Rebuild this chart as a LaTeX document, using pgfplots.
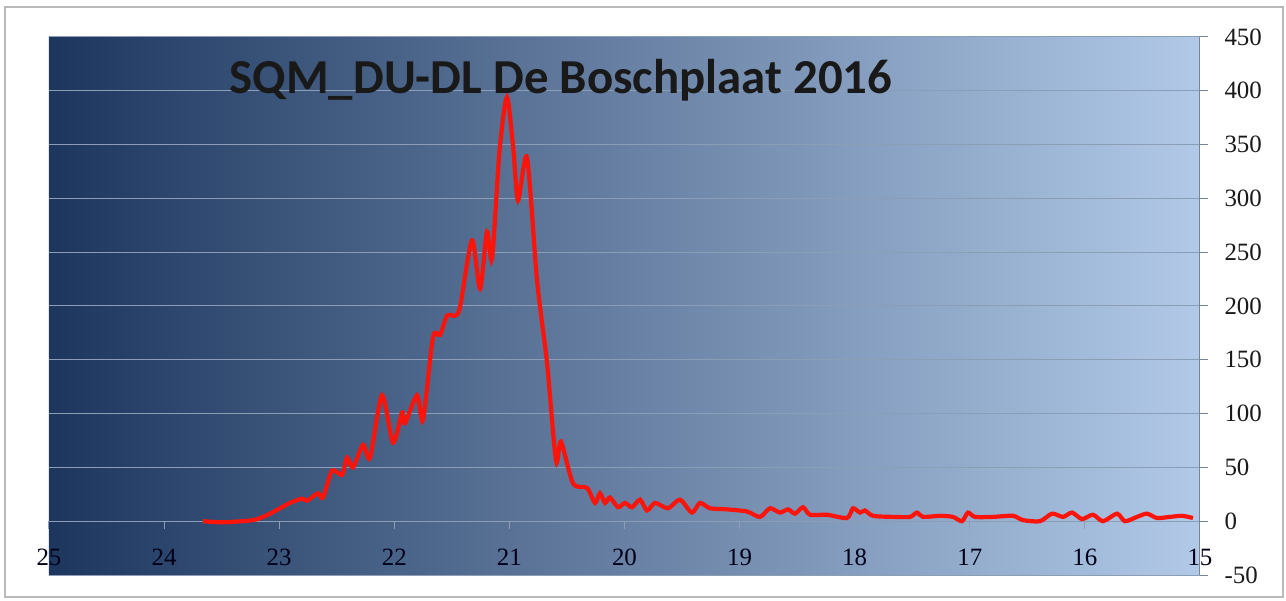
\documentclass[border=0pt]{standalone}
\usepackage{pgfplots}
\pgfplotsset{compat=1.18}
\usepackage{fontspec}
\setmainfont{Liberation Serif}
\newfontfamily\carlito{Carlito}
\definecolor{gridc}{RGB}{140,158,182}
\definecolor{axc}{RGB}{120,132,150}
\definecolor{bgL}{RGB}{28,54,94}
\definecolor{bgM}{RGB}{58,106,176}
\definecolor{bgR}{RGB}{178,202,232}
\definecolor{curve}{RGB}{250,20,10}
\begin{document}
\begin{tikzpicture}
\useasboundingbox (0bp,0bp) rectangle (1286bp,601bp);
\fill[white] (0bp,0bp) rectangle (1286bp,601bp);
\draw[gray!55, line width=1.3bp] (5bp,4bp) rectangle (1283bp,594bp);
\begin{axis}[
  at={(49bp,26bp)}, anchor=south west,
  width=1151bp, height=538bp, scale only axis,
  x dir=reverse,
  xmin=15, xmax=25, ymin=-50, ymax=450,
  axis x line*=middle,
  axis y line*=right,
  hide obscured x ticks=false,
  axis background/.style={left color=bgL, middle color=bgM, right color=bgR},
  xtick={15,16,17,18,19,20,21,22,23,24,25},
  xticklabels={15,16,17,18,19,20,21,22,23,24,25},
  ytick={-50,0,50,100,150,200,250,300,350,400,450},
  yticklabels={-50,0,50,100,150,200,250,300,350,400,450},
  ymajorgrids,
  grid style={gridc, line width=1bp},
  x axis line style={gridc, line width=1bp},
  y axis line style={axc, line width=1bp},
  xtick style={gridc, line width=1bp},
  ytick style={axc, line width=1bp},
  tick align=outside,
  major tick length=8bp,
  xticklabel style={font=\fontsize{25}{25}\selectfont, text=black!90!blue, anchor=north, yshift=-16bp},
  yticklabel style={font=\fontsize{25}{25}\selectfont, text=black!90, anchor=west, xshift=13bp},
  clip=false,
]
\addplot[curve, line width=4.2bp, smooth, tension=0.45] table {
23.662 0
23.488 -1
23.228 1
23.106 5.6
22.993 12
22.906 17
22.802 21
22.758 19
22.663 26
22.619 22
22.541 47
22.454 43
22.411 59
22.359 50
22.272 71
22.211 59
22.107 117
22.011 73
21.933 101
21.907 91
21.803 117
21.751 94
21.664 171
21.603 173
21.542 191
21.473 191
21.429 199
21.325 261
21.255 216
21.195 269
21.151 244
21.085 345
21.021 394
20.965 345
20.925 298
20.847 338
20.760 224
20.673 147
20.595 56
20.552 74
20.447 35
20.326 31
20.256 17
20.213 26
20.169 17
20.126 22
20.056 13
19.996 17
19.935 13
19.865 20
19.804 10
19.735 17
19.622 12
19.518 20
19.414 8
19.344 17
19.257 12
19.109 11
18.936 9
18.823 4
18.736 12
18.649 8
18.579 11
18.519 7
18.449 13
18.388 6
18.241 6
18.067 3
18.015 12
17.954 8
17.911 10
17.841 5
17.667 4
17.520 4
17.459 8
17.407 4
17.259 5
17.146 4
17.068 0
17.016 8
16.955 4
16.798 4
16.625 5
16.538 1
16.390 0
16.286 7
16.190 4
16.112 8
16.025 2
15.930 6
15.842 0
15.721 7
15.652 0
15.547 4
15.461 7
15.374 3
15.261 4
15.157 5
15.061 3
};
\end{axis}
\node[font=\carlito\bfseries\fontsize{49}{49}\selectfont, text=black!90] at (561bp,521bp) {SQM\_DU-DL De Boschplaat 2016};
\end{tikzpicture}
\end{document}
